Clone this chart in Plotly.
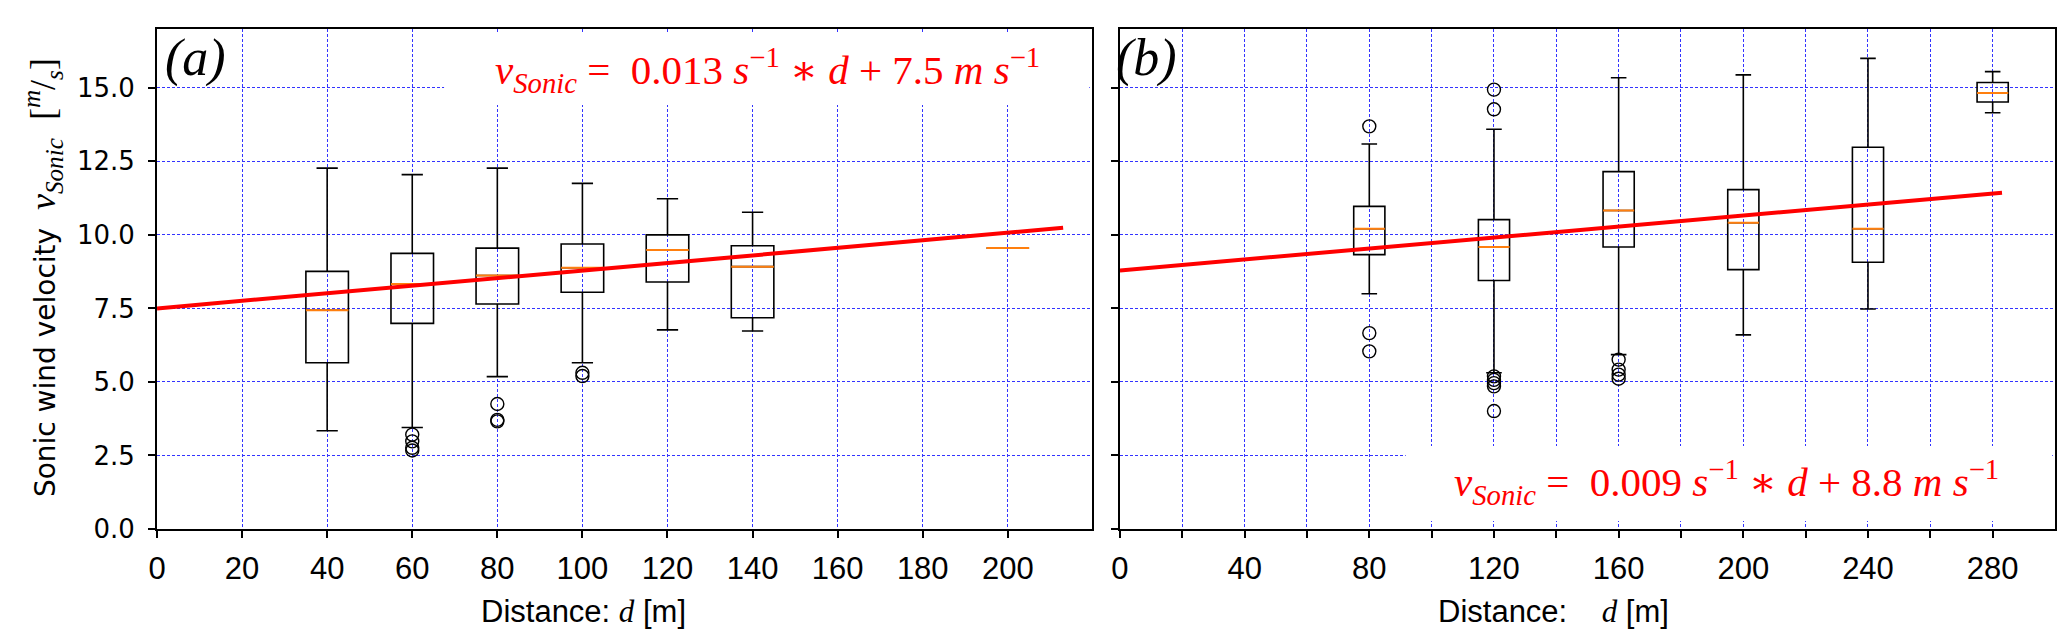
import plotly.graph_objects as go
from plotly.subplots import make_subplots

# (a) box statistics, distance d [m] -> sonic wind velocity [m/s]
a_pos = [40, 60, 80, 100, 120, 140, 200]
a_lower = [3.34, 3.45, 5.18, 5.65, 6.77, 6.73, 9.55]
a_q1 = [5.65, 6.99, 7.65, 8.05, 8.40, 7.18, 9.55]
a_med = [7.44, 8.33, 8.62, 8.88, 9.49, 8.92, 9.55]
a_q3 = [8.76, 9.37, 9.55, 9.69, 10.00, 9.63, 9.55]
a_upper = [12.27, 12.05, 12.27, 11.75, 11.23, 10.77, 9.55]
a_out_x = [60, 60, 60, 60, 80, 80, 80, 100, 100]
a_out_y = [3.21, 2.98, 2.76, 2.67, 4.25, 3.71, 3.66, 5.31, 5.20]
a_fit_x = [0, 213]
a_fit_y = [7.5, 10.24]

# (b) box statistics
b_pos = [80, 120, 160, 200, 240, 280]
b_lower = [8.00, 5.31, 5.93, 6.60, 7.48, 14.15]
b_q1 = [9.33, 8.45, 9.59, 8.82, 9.07, 14.52]
b_med = [10.21, 9.59, 10.83, 10.41, 10.21, 14.82]
b_q3 = [10.97, 10.52, 12.15, 11.54, 12.98, 15.18]
b_upper = [13.09, 13.59, 15.34, 15.44, 16.00, 15.55]
b_out_x = [80, 80, 80, 120, 120, 120, 120, 120, 120, 120, 160, 160, 160, 160]
b_out_y = [13.69, 6.66, 6.04, 14.94, 14.27, 5.19, 5.07, 4.96, 4.85, 4.01, 5.76, 5.42, 5.25, 5.11]
b_fit_x = [0, 283]
b_fit_y = [8.79, 11.43]

a_ticks = [0, 20, 40, 60, 80, 100, 120, 140, 160, 180, 200]
a_ticktext = ["0", "20", "40", "60", "80", "100", "120", "140", "160", "180", "200"]
b_ticks = [0, 20, 40, 60, 80, 100, 120, 140, 160, 180, 200, 220, 240, 260, 280]
b_ticktext = ["0", "", "40", "", "80", "", "120", "", "160", "", "200", "", "240", "", "280"]
y_step = 2.5

SERIF = "Liberation Serif"
STAR = "<span style='font-family:DejaVu Serif'>∗</span>"

fig = make_subplots(rows=1, cols=2, horizontal_spacing=0.0147)


def add_panel(col, pos, lo, q1, med, q3, hi, ox, oy, fx, fy):
    fig.add_trace(go.Box(x=pos, q1=q1, median=med, q3=q3, lowerfence=lo, upperfence=hi,
                         width=10, whiskerwidth=0.5, boxpoints=False,
                         fillcolor="rgba(0,0,0,0)", line=dict(color="black", width=1.6),
                         showlegend=False, hoverinfo="skip"), row=1, col=col)
    # orange median line on top of each box
    fig.add_trace(go.Box(x=pos, q1=med, median=med, q3=med, lowerfence=med, upperfence=med,
                         width=10, whiskerwidth=0, boxpoints=False,
                         fillcolor="rgba(0,0,0,0)", line=dict(color="#ff7f0e", width=2),
                         showlegend=False, hoverinfo="skip"), row=1, col=col)
    fig.add_trace(go.Scatter(x=ox, y=oy, mode="markers",
                             marker=dict(symbol="circle-open", size=13, color="black",
                                         line=dict(width=1.4)),
                             showlegend=False, hoverinfo="skip"), row=1, col=col)
    fig.add_trace(go.Scatter(x=fx, y=fy, mode="lines", line=dict(color="red", width=4),
                             showlegend=False, hoverinfo="skip"), row=1, col=col)


add_panel(1, a_pos, a_lower, a_q1, a_med, a_q3, a_upper, a_out_x, a_out_y, a_fit_x, a_fit_y)
add_panel(2, b_pos, b_lower, b_q1, b_med, b_q3, b_upper, b_out_x, b_out_y, b_fit_x, b_fit_y)

grid = dict(showgrid=True, gridcolor="#3333ff", gridwidth=1, griddash="3px,2px", automargin=False,
            showline=True, linecolor="black", linewidth=2, mirror=True,
            ticks="outside", ticklen=7, tickwidth=1.5, tickcolor="black", zeroline=False)

fig.update_xaxes(grid, range=[0, 219.8], tickvals=a_ticks, ticktext=a_ticktext, ticklabelstandoff=4,
                 tickfont=dict(family="Liberation Sans", size=31, color="black"), row=1, col=1)
fig.update_xaxes(grid, range=[0, 300], tickvals=b_ticks, ticktext=b_ticktext, ticklabelstandoff=4,
                 tickfont=dict(family="Liberation Sans", size=31, color="black"), row=1, col=2)
fig.update_yaxes(grid, range=[0, 17], tickmode="linear", tick0=0, dtick=y_step, tickformat=".1f",
                 ticklabelstandoff=8, tickfont=dict(family="DejaVu Sans", size=26, color="black"),
                 row=1, col=1)
fig.update_yaxes(grid, range=[0, 17], tickmode="linear", tick0=0, dtick=y_step, showticklabels=False,
                 row=1, col=2)

# white boxes behind the equations (cover the grid there; no data underneath)
fig.add_shape(type="rect", xref="x domain", yref="y domain", x0=0.307, x1=0.997, y0=0.848, y1=0.992,
              fillcolor="white", line=dict(width=0), layer="above")
fig.add_shape(type="rect", xref="x2 domain", yref="y2 domain", x0=0.3056, x1=0.997, y0=0.016, y1=0.166,
              fillcolor="white", line=dict(width=0), layer="above")

eq_a = ("<i>v</i><sub><i>Sonic</i></sub> =  0.013 <i>s</i><sup>−1</sup> " + STAR + " <i>d</i> + 7.5 "
        "<i>m s</i><sup>−1</sup>")
eq_b = ("<i>v</i><sub><i>Sonic</i></sub> =  0.009 <i>s</i><sup>−1</sup> " + STAR + " <i>d</i> + 8.8 "
        "<i>m s</i><sup>−1</sup>")
center = dict(xref="paper", yref="paper", showarrow=False, xanchor="center", yanchor="middle")
fig.add_annotation(center, text=eq_a, x=0.3219, y=0.918, font=dict(family=SERIF, size=41, color="red"))
fig.add_annotation(center, text=eq_b, x=0.8270, y=0.094, font=dict(family=SERIF, size=41, color="red"))

fig.add_annotation(center, text="<i>(a)</i>", x=0.0205, y=0.942,
                   font=dict(family=SERIF, size=52, color="black"))
fig.add_annotation(center, text="<i>(b)</i>", x=0.5216, y=0.942,
                   font=dict(family=SERIF, size=52, color="black"))

ytitle = ("Sonic wind velocity  <span style='font-family:Liberation Serif;font-size:36px'>"
          "<i>v</i><sub><i>Sonic</i></sub>  [<sup><i>m</i></sup>/<sub><i>s</i></sub>]</span>")
fig.add_annotation(center, text=ytitle, x=-0.060, y=0.502, textangle=-90,
                   font=dict(family="DejaVu Sans", size=28, color="black"))

fig.add_annotation(center, text="Distance: <span style='font-family:Liberation Serif'><i>d</i></span> [m]",
                   x=0.2245, y=-0.164, font=dict(family="Liberation Sans", size=31, color="black"))
fig.add_annotation(center, text="Distance:    <span style='font-family:Liberation Serif'><i>d</i></span> [m]",
                   x=0.736, y=-0.164, font=dict(family="Liberation Sans", size=31, color="black"))

fig.update_layout(width=2067, height=639, margin=dict(l=149, r=20, t=21, b=118),
                  plot_bgcolor="white", paper_bgcolor="white", boxmode="overlay",
                  font=dict(family="DejaVu Sans", color="black"))

fig.write_html("out.html")
